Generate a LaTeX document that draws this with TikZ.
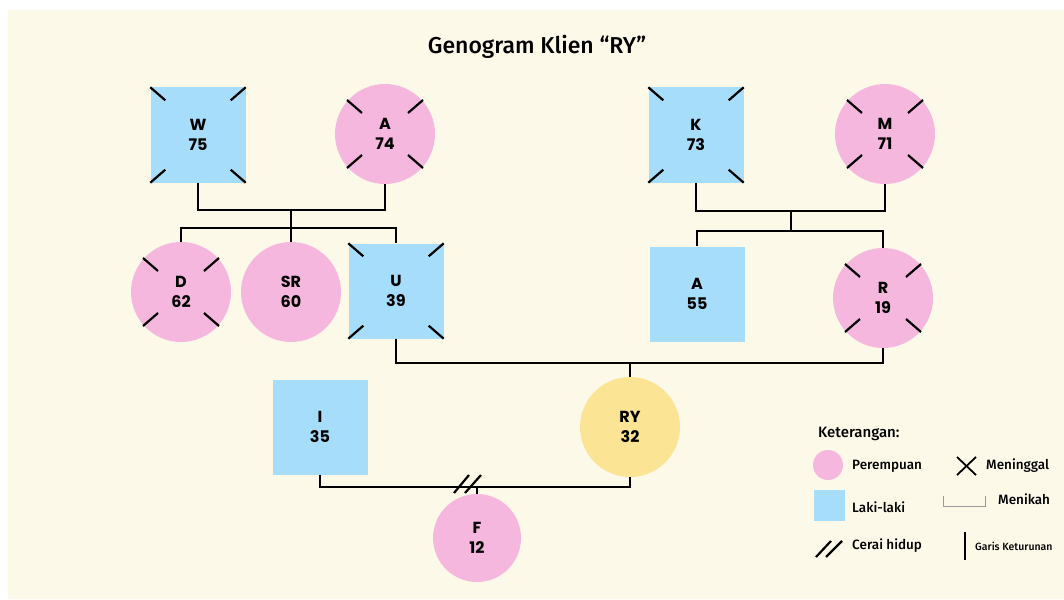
\documentclass[tikz,border=0pt]{standalone}
\usepackage{fontspec}
\setmainfont{Fira Sans}
\newfontfamily\lblfont{Poppins}
\newfontfamily\titlefont{Fira Sans}[UprightFont=* Medium]
\usetikzlibrary{calc}
\definecolor{creamc}{HTML}{FDF9E9}
\definecolor{pinkc}{HTML}{F6B7DE}
\definecolor{bluec}{HTML}{A6DDFB}
\definecolor{yellowc}{HTML}{FBE594}
\definecolor{grayc}{HTML}{9A9A9A}
\tikzset{
  female/.style={circle, fill=pinkc, draw=none, minimum size=100pt, inner sep=0pt, align=center, font=\lblfont\bfseries\fontsize{16}{20}\selectfont},
  male/.style={rectangle, fill=bluec, draw=none, minimum size=95pt, inner sep=0pt, align=center, font=\lblfont\bfseries\fontsize{16}{20}\selectfont},
  kin/.style={line width=2.4pt, line join=miter, black},
  tick/.style={line width=2.2pt, black},
  legtext/.style={anchor=west, font=\titlefont\fontsize{13.5}{15}\selectfont, inner sep=0pt},
}
\newcommand{\deadsq}[1]{%
  \draw[tick] (#1.north west) -- ++(15,13);
  \draw[tick] (#1.north east) -- ++(-15,13);
  \draw[tick] (#1.south west) -- ++(15,-13);
  \draw[tick] (#1.south east) -- ++(-15,-13);}
\newcommand{\deadci}[1]{%
  \foreach \sx/\sy in {-1/-1,1/-1,-1/1,1/1}{
    \draw[tick] ($(#1.center)+(\sx*23,\sy*21)$) -- ($(#1.center)+(\sx*38,\sy*34)$);}}
\begin{document}
\begin{tikzpicture}[x=1pt,y=-1pt]
\useasboundingbox (0,0) rectangle (1064,599);
\fill[white] (0,0) rectangle (1064,599);
\fill[creamc] (8,10) rectangle (1064,599);

\node[font=\titlefont\fontsize{23}{26}\selectfont] (title) at (537,47) {Genogram Klien “RY”};

% generation 1
\node[male] (W) at (198,135) {W\\75};
\node[female] (A1) at (385,134) {A\\74};
\node[male] (K) at (696,135) {K\\73};
\node[female] (M) at (885,134) {M\\71};
% generation 2
\node[female] (D) at (181,292) {D\\62};
\node[female] (SR) at (291,292) {SR\\60};
\node[male] (U) at (396,291) {U\\39};
\node[male] (A2) at (697,294) {A\\55};
\node[female] (R) at (883,298) {R\\19};
% generation 3
\node[male] (I) at (320,427) {I\\35};
\node[circle, fill=yellowc, minimum size=100pt, inner sep=0pt, align=center, font=\lblfont\bfseries\fontsize{16}{20}\selectfont] (RY) at (630,427) {RY\\32};
% generation 4
\node[female, minimum size=88pt] (F) at (477,538) {F\\12};

\deadsq{W}\deadci{A1}\deadsq{K}\deadci{M}
\deadci{D}\deadsq{U}\deadci{R}

% connectors
\coordinate (m1) at (291,210);
\coordinate (c1) at (291,228);
\draw[kin] (W.south) |- (m1) -| (A1.south);
\draw[kin] (m1) -- (c1);
\draw[kin] (D.north) |- (c1) -| (U.north);
\draw[kin] (c1) -- (SR.north);

\coordinate (m2) at (791,211);
\coordinate (c2) at (791,231);
\draw[kin] (K.south) |- (m2) -| (M.south);
\draw[kin] (m2) -- (c2);
\draw[kin] (A2.north) |- (c2) -| (R.north);

\coordinate (m3) at (630,363);
\draw[kin] (U.south) |- (m3) -| (R.south);
\draw[kin] (m3) -- (RY.north);

\coordinate (m4) at (477,487);
\draw[kin] (I.south) |- (m4) -| (RY.south);
\draw[kin] (m4) -- (F.north);
\draw[tick] ($(m4)+(-23,6)$) -- ++(15,-18);
\draw[tick] ($(m4)+(-12,6)$) -- ++(16,-18);

% legend
\node[anchor=west, font=\titlefont\fontsize{15}{17}\selectfont, inner sep=0pt] (lgT) at (818,434) {Keterangan:};
\node[circle, fill=pinkc, minimum size=30pt, inner sep=0pt] (lgF) at (828,465) {};
\node[legtext] (lgFt) at (852,466) {Perempuan};
\node[rectangle, fill=bluec, minimum size=31pt, inner sep=0pt] (lgM) at (829,505) {};
\node[legtext] (lgMt) at (852,507) {Laki-laki};
\draw[tick] (816,557) -- (831,541);
\draw[tick] (826,557) -- (842,541);
\node[legtext] (lgCt) at (852,546) {Cerai hidup};
\draw[line width=1.8pt] (957,457) -- (976,475);
\draw[line width=1.8pt] (957,475) -- (976,457);
\node[legtext] (lgDt) at (986,466) {Meninggal};
\draw[grayc, line width=0.9pt] (943,496) |- (985,506) -- (985,496);
\node[legtext] (lgNt) at (998,499) {Menikah};
\draw[line width=2pt] (965,532) -- (965,560);
\node[anchor=west, font=\titlefont\fontsize{10.5}{12}\selectfont, inner sep=0pt] (lgKt) at (975,546) {Garis Keturunan};
\end{tikzpicture}
\end{document}
